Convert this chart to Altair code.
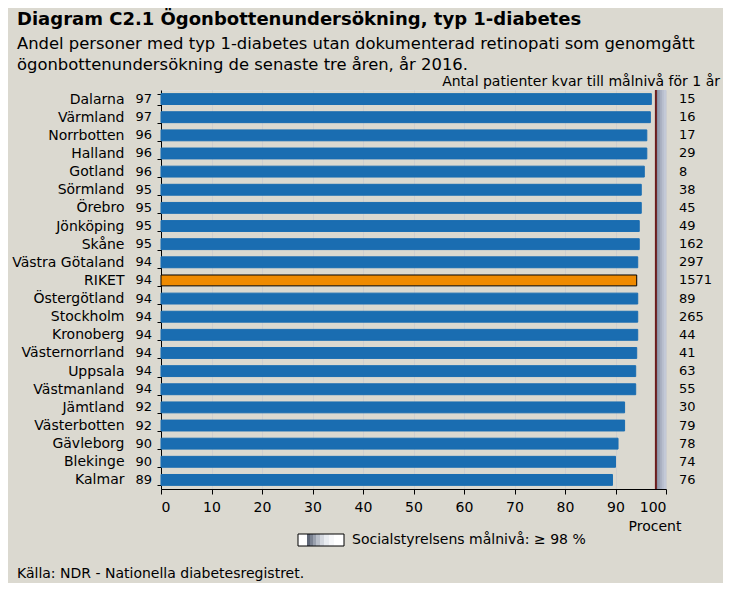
import altair as alt
import pandas as pd

regions = ["Dalarna", "Värmland", "Norrbotten", "Halland", "Gotland", "Sörmland",
           "Örebro", "Jönköping", "Skåne", "Västra Götaland", "RIKET", "Östergötland",
           "Stockholm", "Kronoberg", "Västernorrland", "Uppsala", "Västmanland",
           "Jämtland", "Västerbotten", "Gävleborg", "Blekinge", "Kalmar"]
values = [97.1, 96.9, 96.2, 96.2, 95.7, 95.1, 95.1, 94.7, 94.7, 94.4, 94.2, 94.4,
          94.4, 94.4, 94.2, 94.0, 94.0, 91.8, 91.8, 90.5, 90.0, 89.4]
pct_labels = [97, 97, 96, 96, 96, 95, 95, 95, 95, 94, 94, 94, 94, 94, 94, 94, 94,
              92, 92, 90, 90, 89]
counts = [15, 16, 17, 29, 8, 38, 45, 49, 162, 297, 1571, 89, 265, 44, 41, 63, 55,
          30, 79, 78, 74, 76]
x_ticks = [0, 10, 20, 30, 40, 50, 60, 70, 80, 90, 100]
target = [98, 100]
band_shades = ["#868c9e", "#979eb0", "#a8afc0", "#b7becd", "#c3c9d7"]

df = pd.DataFrame({"region": regions, "value": values, "pct": pct_labels,
                   "count": counts,
                   "kind": ["riket" if r == "RIKET" else "region" for r in regions]})

W, H = 505, 399
FONT = "DejaVu Sans"

y_enc = alt.Y("region:N", sort=regions,
              scale=alt.Scale(paddingInner=0.4, paddingOuter=0.2),
              axis=alt.Axis(title=None, labelFontSize=14, labelPadding=33,
                            tickSize=4, tickBand="extent", labelColor="black",
                            domainColor="black", tickColor="black"))
x_scale = alt.Scale(domain=[0, 100], nice=False)
x_enc = alt.X("value:Q", scale=x_scale,
              axis=alt.Axis(title=None, values=x_ticks, labelFontSize=14,
                            tickSize=5, labelPadding=6, grid=True,
                            gridColor="#cfcfcf", labelColor="black",
                            domainColor="black", tickColor="black"))

bars = alt.Chart(df).mark_bar(strokeWidth=1).encode(
    x=x_enc,
    y=y_enc,
    fill=alt.Color("kind:N", scale=alt.Scale(domain=["region", "riket"],
                                             range=["#1A6DB1", "#EF8A00"]),
                   legend=None),
    stroke=alt.Stroke("kind:N", scale=alt.Scale(domain=["region", "riket"],
                                                range=["#1A6DB1", "black"]),
                      legend=None),
)

# target zone 98-100 %, shaded with thin vertical strips
n = len(band_shades)
step = (target[1] - target[0]) / n
shade_df = pd.DataFrame({"pos": [target[0] + step * (i + 0.5) for i in range(n)],
                         "shade": band_shades})
px_per_unit = W / 100
band = alt.Chart(shade_df).mark_rule(strokeWidth=step * px_per_unit + 0.4).encode(
    x=alt.X("pos:Q", scale=x_scale),
    color=alt.Color("shade:N", scale=None, legend=None))
tdf = pd.DataFrame({"lo": [target[0]]})
redline = alt.Chart(tdf).mark_rule(color="#6b1c1c", strokeWidth=2).encode(
    x=alt.X("lo:Q", scale=x_scale))

pct_text = alt.Chart(df).mark_text(align="right", baseline="middle", fontSize=13,
                                   color="black").encode(
    y=alt.Y("region:N", sort=regions), x=alt.value(-9), text="pct:Q")
count_text = alt.Chart(df).mark_text(align="left", baseline="middle", fontSize=13,
                                     color="black").encode(
    y=alt.Y("region:N", sort=regions), x=alt.value(518), text="count:Q")

one = pd.DataFrame({"a": [0]})


def txt(s, x, y, size=13, align="left", bold=False):
    return alt.Chart(one).mark_text(text=s, align=align, baseline="middle",
                                    fontSize=size, color="black",
                                    fontWeight="bold" if bold else "normal").encode(
        x=alt.value(x), y=alt.value(y))


title = txt("Diagram C2.1 Ögonbottenundersökning, typ 1-diabetes", -144, -70, 18, bold=True)
sub1 = txt("Andel personer med typ 1-diabetes utan dokumenterad  retinopati som genomgått", -144, -46, 16.4)
sub2 = txt("ögonbottenundersökning de senaste tre åren, år 2016.", -144, -25, 16.4)
antal = txt("Antal patienter kvar till målnivå för 1 år", 559, -8, 14, align="right")
procent = txt("Procent", 494, 437, 14, align="center")
legtxt = txt("Socialstyrelsens målnivå: ≥ 98 %", 191, 450, 14)
kalla = txt("Källa: NDR - Nationella diabetesregistret.", -144, 484, 14)


# legend swatch (white box with a dark-to-light shading strip)
def seg(x0, x1, color):
    return alt.Chart(one).mark_rect(fill=color).encode(
        x=alt.value(x0), x2=alt.value(x1), y=alt.value(444), y2=alt.value(456))


leg_bg = seg(137, 183, "white")
leg_segs = [seg(146, 149, "#5d6575"), seg(149, 152, "#7b8392"),
            seg(152, 155, "#9aa1ae"), seg(155, 159, "#b9bfc9"),
            seg(159, 163, "#d4d8df"), seg(163, 168, "#e9ecf0"),
            seg(168, 173, "#f6f7f9")]
leg_border = alt.Chart(one).mark_rect(fill="white", fillOpacity=0, stroke="black",
                                      strokeWidth=1).encode(
    x=alt.value(137), x2=alt.value(183), y=alt.value(444), y2=alt.value(456))

chart = alt.layer(band, bars, redline, pct_text, count_text, title, sub1,
                  sub2, antal, procent, legtxt, kalla, leg_bg, *leg_segs,
                  leg_border).properties(
    width=W, height=H,
    autosize=alt.AutoSizeParams(type="none"),
    padding={"left": 153, "top": 82, "right": 57, "bottom": 94},
    background="#DBD9D0",
).configure_view(stroke="black", strokeWidth=1, fill="white").configure(
    font=FONT)

chart.save("out.html", embed_options={"renderer": "svg", "actions": False})
